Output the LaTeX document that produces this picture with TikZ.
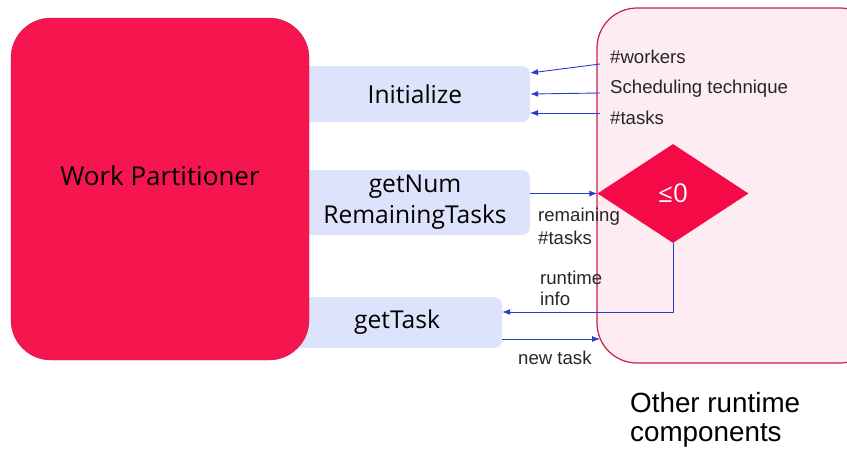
\documentclass[tikz,border=0pt]{standalone}
\usepackage{fontspec}
\newfontfamily\uifont{Open Sans}
\newfontfamily\lblfont{Liberation Sans}
\usetikzlibrary{shapes.geometric,arrows.meta}
\definecolor{wpred}{HTML}{F5164F}
\definecolor{diared}{HTML}{F50A48}
\definecolor{opblue}{HTML}{DDE3FA}
\definecolor{rtpink}{HTML}{FDEDF2}
\definecolor{rtborder}{HTML}{C81E4A}
\definecolor{flow}{HTML}{2A3BC4}
\tikzset{
  opbox/.style={rectangle, rounded corners=8, fill=opblue, draw=none, inner sep=0,
    font=\uifont\fontsize{24.6}{31}\selectfont, align=center},
  bigtext/.style={font=\uifont\fontsize{26}{32}\selectfont, inner sep=0},
  lbl/.style={font=\lblfont\fontsize{18.6}{21}\selectfont, inner sep=0, anchor=west, text=black!85},
  caption/.style={font=\lblfont\fontsize{27.8}{33}\selectfont, inner sep=0, anchor=west},
  arr/.style={draw=flow, line width=0.9, -{Latex[length=8,width=6]}},
}
\begin{document}
\begin{tikzpicture}[x=1pt,y=-1pt]
\useasboundingbox (0,0) rectangle (847,450);
\clip (0,0) rectangle (847,450);

% operation boxes of the partitioner interface
\node[opbox, minimum width=230, minimum height=56] (init) at (415,94) {Initialize};
\node[opbox, minimum width=230, minimum height=65] (num) at (415,202.5) {getNum\\RemainingTasks};
\node[opbox, minimum width=210, minimum height=51] (task) at (397,322.5) {getTask};

% work partitioner block
\node[rectangle, rounded corners=40, fill=wpred, draw=wpred!85!black, line width=0.4,
  minimum width=298, minimum height=342] (wp) at (160,189) {};
\node[bigtext] (wplabel) at (160,176) {Work Partitioner};

% other runtime components
\node[rectangle, rounded corners=40, fill=rtpink, draw=rtborder, line width=1.2,
  minimum width=283, minimum height=355] (rt) at (738.5,185.5) {};
\node[diamond, fill=diared, minimum width=151, minimum height=99, inner sep=0,
  font=\uifont\fontsize{26}{30}\selectfont, text=white] (dia) at (673,193.5) {≤0};

% inputs to Initialize
\node[lbl] (lw) at (610,57) {\#workers};
\node[lbl] (ls) at (610,89) {Scheduling technique};
\node[lbl] (lt) at (610,118) {\#tasks};
\coordinate (s1) at (600,64);
\coordinate (s2) at (600,93);
\coordinate (s3) at (600,113);
\coordinate (e1) at (530,73);
\coordinate (e3) at (530,113);
\draw[arr] (s1) -- (e1);
\draw[arr] (s2) -- (init.east);
\draw[arr] (s3) -- (e3);

% remaining task count check
\draw[arr] (num.east |- dia.west) -- (dia.west);
\node[lbl] (lrem) at (538,217) {remaining};
\node[lbl] (lrem2) at (538,238) {\#tasks};

% runtime info back to getTask
\coordinate (bend) at (673,312);
\draw[arr] (dia.south) -- (bend) -- (task.east |- bend);
\node[lbl] (lri) at (540,278) {runtime};
\node[lbl] (lri2) at (540,299) {info};

% new task handed out
\coordinate (nt) at (600,339);
\draw[arr] (task.east |- nt) -- (nt);
\node[lbl] (lnt) at (518,358) {new task};

\node[caption] (ort) at (630,403) {Other runtime};
\node[caption] (orc) at (630,435) {components};
\end{tikzpicture}
\end{document}
